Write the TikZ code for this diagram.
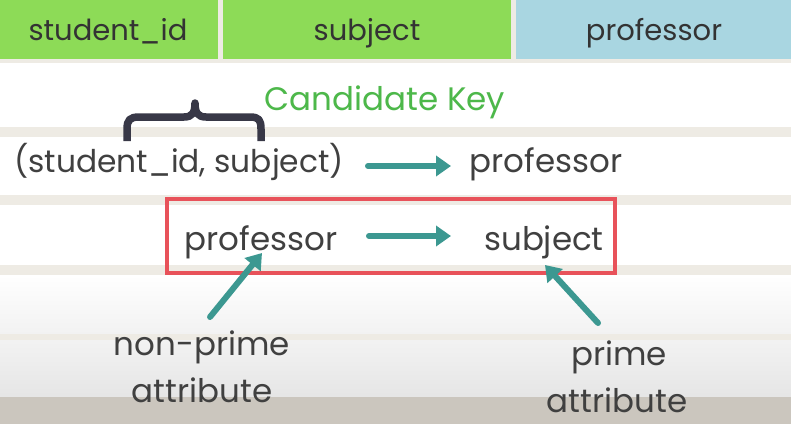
\documentclass[tikz,border=0pt]{standalone}
\usepackage{fontspec}
\setmainfont{Poppins}
\usetikzlibrary{arrows.meta}
\definecolor{hgreen}{HTML}{8DDB57}
\definecolor{hblue}{HTML}{A9D6E1}
\definecolor{sepc}{HTML}{EEEBE4}
\definecolor{bottomc}{HTML}{CBC6BE}
\definecolor{txtc}{HTML}{404040}
\definecolor{keygreen}{HTML}{4DB84A}
\definecolor{teal}{HTML}{3C9891}
\definecolor{boxred}{HTML}{E8525A}
\definecolor{bracec}{HTML}{383847}
\tikzset{
  hdr/.style={anchor=base, inner sep=0pt, text=txtc!80!black, font=\fontsize{29}{34}\selectfont},
  txt/.style={anchor=base, inner sep=0pt, text=txtc, font=\fontsize{32.5}{40}\selectfont},
  tarrow/.style={draw=teal, line width=6pt, line cap=round, -{Triangle[length=15pt,width=20pt]}},
}
\begin{document}
\begin{tikzpicture}[x=1pt,y=-1pt]
\useasboundingbox (0,0) rectangle (791,424);
% background bands
\fill[sepc] (0,0) rectangle (791,424);
\fill[hgreen] (0,0) rectangle (218,59);
\fill[hgreen] (223,0) rectangle (511,59);
\fill[hblue] (516,0) rectangle (791,59);
\fill[white] (0,63) rectangle (791,127);
\fill[white] (0,137) rectangle (791,195);
\fill[white] (0,205) rectangle (791,265);
\shade[top color=white, bottom color=gray!10] (0,275) rectangle (791,333);
\shade[top color=gray!10, bottom color=gray!20] (0,340) rectangle (791,397);
\fill[bottomc] (0,397) rectangle (791,424);
% header
\node[hdr] (h1) at (108,40) {student\_id};
\node[hdr] (h2) at (367,40) {subject};
\node[hdr] (h3) at (654,40) {professor};
% candidate key
\node[txt, text=keygreen] (ck) at (385,110) {Candidate Key};
\draw[bracec, line width=7.5pt, line join=round]
  (127,141) -- (127,129) .. controls (127,120) and (130,117) .. (139,117)
  -- (184,117) .. controls (192,117) and (195,113) .. (195,103)
  .. controls (195,113) and (198,117) .. (206,117)
  -- (250,117) .. controls (259,117) and (261,120) .. (261,129) -- (261,141);
% row 1
\node[txt, font=\fontsize{31.3}{40}\selectfont] (sk) at (179,172) {(student\_id, subject)};
\node[txt] (p1) at (546,172) {professor};
\coordinate (a1s) at (368,166);
\coordinate (a1e) at (451,166);
\draw[tarrow] (a1s) -- (a1e);
% box row
\node[draw=boxred, line width=4pt, minimum width=448pt, minimum height=74pt, inner sep=0pt] (box) at (391,236) {};
\node[txt] (p2) at (261,250) {professor};
\node[txt] (s2) at (544,250) {subject};
\coordinate (a2s) at (369,236);
\coordinate (a2e) at (451,236);
\draw[tarrow] (a2s) -- (a2e);
% labels
\node[txt] (np1) at (202,355) {non-prime};
\node[txt] (np2) at (202,402) {attribute};
\node[txt] (pr1) at (619,365) {prime};
\node[txt] (pr2) at (617,412) {attribute};
\coordinate (a3s) at (210,317);
\coordinate (a3e) at (262,253);
\draw[tarrow] (a3s) -- (a3e);
\coordinate (a4s) at (598,323);
\coordinate (a4e) at (545,265);
\draw[tarrow] (a4s) -- (a4e);
\end{tikzpicture}
\end{document}
